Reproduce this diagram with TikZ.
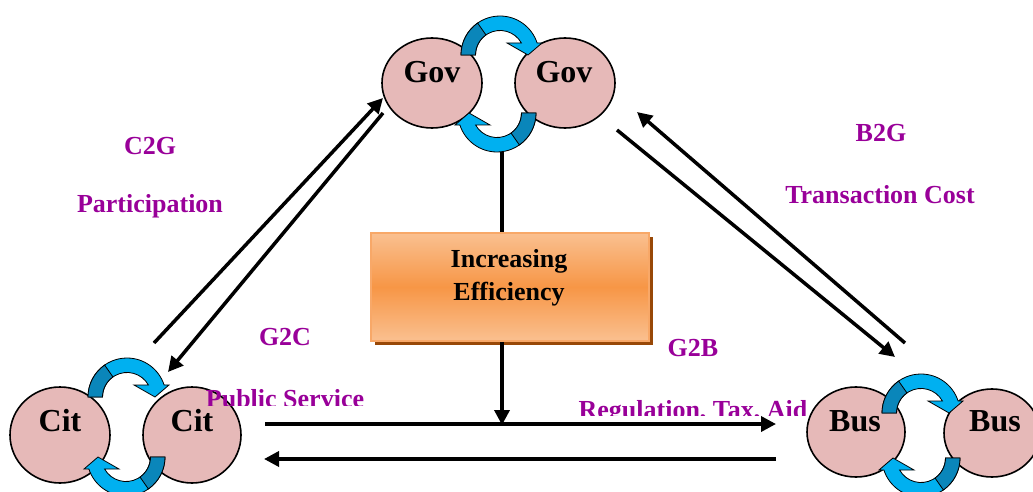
\documentclass[tikz,border=0pt]{standalone}
\usepackage{fontspec}
\setmainfont{Liberation Serif}
\usetikzlibrary{arrows.meta,shapes.geometric,shadows}
\definecolor{pinkc}{HTML}{E6B9B8}
\definecolor{purp}{HTML}{990099}
\definecolor{blueL}{HTML}{00B0F0}
\definecolor{blueD}{HTML}{0A86BA}
\definecolor{orL}{HTML}{FAC090}
\definecolor{orM}{HTML}{F79646}
\definecolor{orB}{HTML}{F8A868}
\definecolor{orS}{HTML}{984807}
\newcommand\curvarr[2]{%
\begin{scope}[shift={(#1)},rotate=#2]
\filldraw[fill=blueL,draw=black,line width=0.8pt] (-39,0) arc[start angle=180,end angle=18,radius=39] -- (42,12) -- (28,0) -- (7,12) -- (21.4,12) arc[start angle=29.3,end angle=180,radius=24.5] -- cycle;
\filldraw[fill=blueD,draw=black,line width=0.8pt] (-39,0) arc[start angle=180,end angle=125,radius=39] -- (125:24.5) arc[start angle=125,end angle=180,radius=24.5] -- cycle;
\end{scope}}
\tikzset{
  circ/.style={ellipse,draw=black,line width=1.6pt,fill=pinkc,inner sep=0pt},
  ctext/.style={font=\fontsize{32}{38}\selectfont\bfseries,anchor=base,inner sep=0pt},
  plabel/.style={font=\fontsize{26}{30}\selectfont\bfseries,text=purp,anchor=base,inner sep=0pt},
  conn/.style={line width=3.5pt,-{Triangle[length=15pt,width=15pt]}},
  plain/.style={line width=3.5pt},
  effbox/.style={rectangle,draw=orB,line width=1.5pt,top color=orL,bottom color=orL,middle color=orM,
     minimum width=278,minimum height=108,inner sep=0pt,
     general shadow={fill=orS,shadow xshift=4pt,shadow yshift=-4pt}},
  efftext/.style={font=\fontsize{26}{33}\selectfont\bfseries,align=center,inner sep=0pt}
}
\begin{document}
\begin{tikzpicture}[x=1pt,y=1pt]
\useasboundingbox (0,0) rectangle (1033,491);
\fill[white] (0,0) rectangle (1033,491);

% purple labels
\node[plabel] (c2g) at (150,337) {C2G};
\node[plabel] (part) at (150,279) {Participation};
\node[plabel] (b2g) at (881,349) {B2G};
\node[plabel] (trans) at (880,288) {Transaction Cost};
\node[plabel] (g2c) at (285,146) {G2C};
\node[plabel] (g2b) at (693,135) {G2B};
\begin{scope}
\clip (0,76) rectangle (1033,491);
\node[plabel] (reg) at (693,73) {Regulation, Tax, Aid};
\end{scope}

% connectors
\coordinate (a1s) at (154,148); \coordinate (a1e) at (383,393);
\coordinate (a2s) at (383,378); \coordinate (a2e) at (168,119);
\coordinate (a3s) at (905,148); \coordinate (a3e) at (637,379);
\coordinate (a4s) at (617,361); \coordinate (a4e) at (895,134);
\coordinate (h1s) at (265,67);  \coordinate (h1e) at (776,67);
\coordinate (h2s) at (776,32);  \coordinate (h2e) at (264,32);
\coordinate (vtop) at (502,341);
\coordinate (vend) at (502,66);
\draw[conn] (a1s) -- (a1e);
\draw[conn] (a2s) -- (a2e);
\draw[conn] (a3s) -- (a3e);
\draw[conn] (a4s) -- (a4e);
\draw[conn] (h1s) -- (h1e);
\draw[conn] (h2s) -- (h2e);

% efficiency box
\node[effbox] (eff) at (510,204) {};
\node[efftext] (efft) at (509,213) {Increasing\\Efficiency};
\draw[plain] (vtop) -- (vtop |- eff.north);
\draw[conn] (vend |- eff.south) -- (vend);

% circles
\node[circ,minimum width=100,minimum height=90] (g1) at (432,408) {};
\node[circ,minimum width=100,minimum height=90] (g2) at (565,408) {};
\node[circ,minimum width=100,minimum height=96] (c1) at (60,56) {};
\node[circ,minimum width=98,minimum height=96] (c2) at (192,56) {};
\node[circ,minimum width=98,minimum height=90] (b1) at (856,59) {};
\node[circ,minimum width=96,minimum height=88] (b2) at (992,58) {};

% curved block arrows
\curvarr{500,436}{0}
\curvarr{497,378}{180}
\curvarr{127,94}{0}
\curvarr{126,34}{180}
\curvarr{921,78}{0}
\curvarr{921,33}{180}

% circle texts
\node[ctext] at (432,408) {Gov};
\node[ctext] at (564,408) {Gov};
\node[ctext] at (60,60) {Cit};
\node[ctext] at (192,60) {Cit};
\node[ctext] at (855,60) {Bus};
\node[ctext] at (995,60) {Bus};

\begin{scope}
\clip (0,86) rectangle (1033,491);
\node[plabel] (pub) at (285,84) {Public Service};
\end{scope}
\end{tikzpicture}
\end{document}
